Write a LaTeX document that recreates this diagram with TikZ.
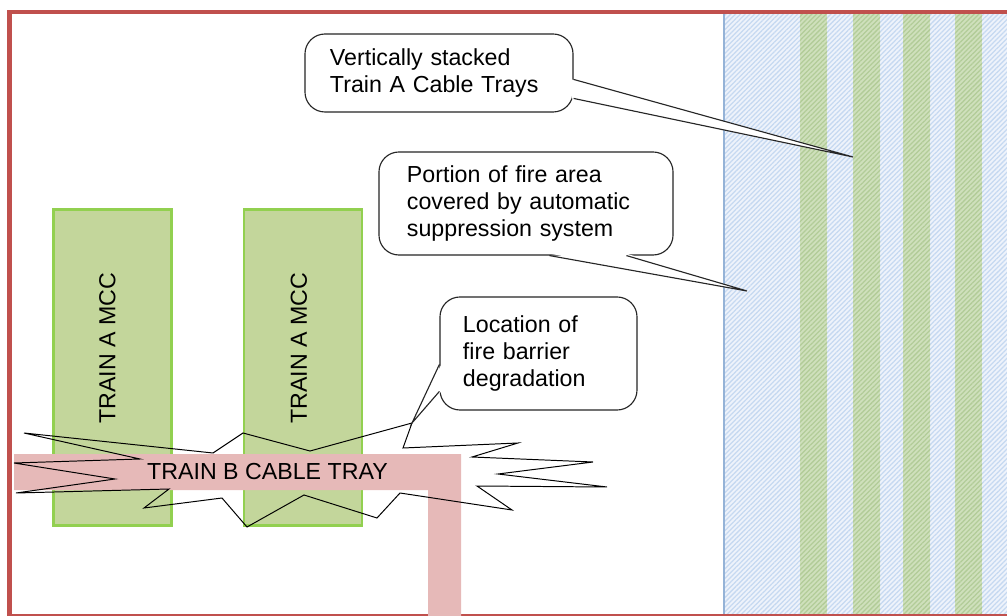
\documentclass[tikz,border=0pt]{standalone}
\usepackage{fontspec}
\setmainfont{Liberation Sans}
\usepackage{tikz}
\usetikzlibrary{calc, patterns.meta}
\definecolor{framered}{HTML}{C0504D}
\definecolor{mccgreen}{HTML}{C3D69B}
\definecolor{mccedge}{HTML}{92D050}
\definecolor{traypink}{HTML}{E6B9B8}
\definecolor{zoneblue}{HTML}{EEF3FB}
\definecolor{hatchblue}{HTML}{C6D9F1}
\definecolor{zoneedge}{HTML}{95B3D7}
\definecolor{stripegreen}{HTML}{CFE0BC}
\definecolor{hatchgreen}{HTML}{B2CC98}
\newcommand{\bigtext}{\fontsize{16.5}{19.5}\selectfont}
\tikzstyle{mccbox} = [rectangle, draw=mccedge, line width=1.5pt, fill=mccgreen, minimum width=2.95cm, minimum height=7.9cm, inner sep=0pt]
\tikzstyle{mcclabel} = [rotate=90, font=\bigtext, inner sep=0pt]
\tikzstyle{callbox} = [rectangle, rounded corners=0.5cm, draw=black!85, line width=0.8pt, fill=white, font=\bigtext, align=left, inner ysep=0pt]
\tikzstyle{calltail} = [draw=black!85, line width=0.8pt]
\tikzstyle{hatch} = [pattern={Lines[angle=45, distance=2.4pt, line width=0.9pt]}]

\begin{document}
\begin{tikzpicture}[x=0.025cm, y=-0.025cm]
    \useasboundingbox (0,0) rectangle (1007,616);
    \clip (0,0) rectangle (1007,616);

    % sprinklered zone with stacked trays
    \fill[zoneblue] (724,14) rectangle (1010,620);
    \fill[hatch, pattern color=hatchblue] (724,14) rectangle (1010,620);
    \foreach \x in {800,853,903,955} {
        \fill[stripegreen] (\x,14) rectangle (\x+27,620);
        \fill[hatch, pattern color=hatchgreen] (\x,14) rectangle (\x+27,620);
    }
    \draw[zoneedge, line width=0.8pt] (724,14) -- (724,620);

    \draw[framered, line width=3pt] (9.5,12) rectangle (1015,616.5);

    \node[mccbox] (mccone) at (112.5,367.5) {};
    \node[mccbox] (mcctwo) at (303,367.5) {};
    \node[mcclabel] (mcconetext) at (107.5,348) {TRAIN A MCC};
    \node[mcclabel] (mcctwotext) at (299,348) {TRAIN A MCC};

    \fill[traypink] (14,454) -- (461,454) -- (461,620) -- (428,620) -- (428,490) -- (14,490) -- cycle;
    \node[font=\bigtext, inner sep=0pt] (traytext) at (267.5,472) {TRAIN B CABLE TRAY};

    % degradation burst
    \draw[black, line width=0.7pt] (24,433) -- (213,453) -- (243,433) -- (310,451) -- (412,423)
        -- (403,448) -- (518,443) -- (472,457) -- (593,462) -- (498,474) -- (607,487)
        -- (477,486) -- (512,510) -- (400,493) -- (377,518) -- (304,495) -- (247,527)
        -- (222,498) -- (144,508) -- (169,489) -- (16,493) -- (115,479) -- (14,463)
        -- (140,459) -- cycle;

    \node[callbox, minimum height=1.95cm, text width=5.45cm, inner xsep=0.625cm] (stacked) at (439,73) {Vertically stacked\\Train A Cable Trays};
    \node[callbox, minimum height=2.575cm, text width=5.95cm, inner xsep=0.7cm] (portion) at (526,203.5) {Portion of fire area\\covered by automatic\\suppression system};
    \node[callbox, minimum height=2.825cm, text width=3.775cm, inner xsep=0.575cm] (barrier) at (538.5,353.5) {Location of\\fire barrier\\degradation};

    \coordinate (stackedtip) at (853,157);
    \coordinate (portiontip) at (747,291);
    \coordinate (barriertip) at (412,423);

    \fill[white] ($(stacked.north east)+(-2,46)$) -- (stackedtip) -- ($(stacked.north east)+(-2,65)$) -- cycle;
    \draw[calltail] ($(stacked.north east)+(0,46)$) -- (stackedtip) -- ($(stacked.north east)+(0,65)$);
    \fill[white] ($(portion.south west)+(171,-2)$) -- (portiontip) -- ($(portion.south west)+(248,-2)$) -- cycle;
    \draw[calltail] ($(portion.south west)+(171,0)$) -- (portiontip) -- ($(portion.south west)+(248,0)$);
    \fill[white] ($(barrier.north west)+(2,68)$) -- (barriertip) -- ($(barrier.north west)+(2,95)$) -- cycle;
    \draw[calltail] ($(barrier.north west)+(0,68)$) -- (barriertip) -- ($(barrier.north west)+(0,95)$);
\end{tikzpicture}
\end{document}
